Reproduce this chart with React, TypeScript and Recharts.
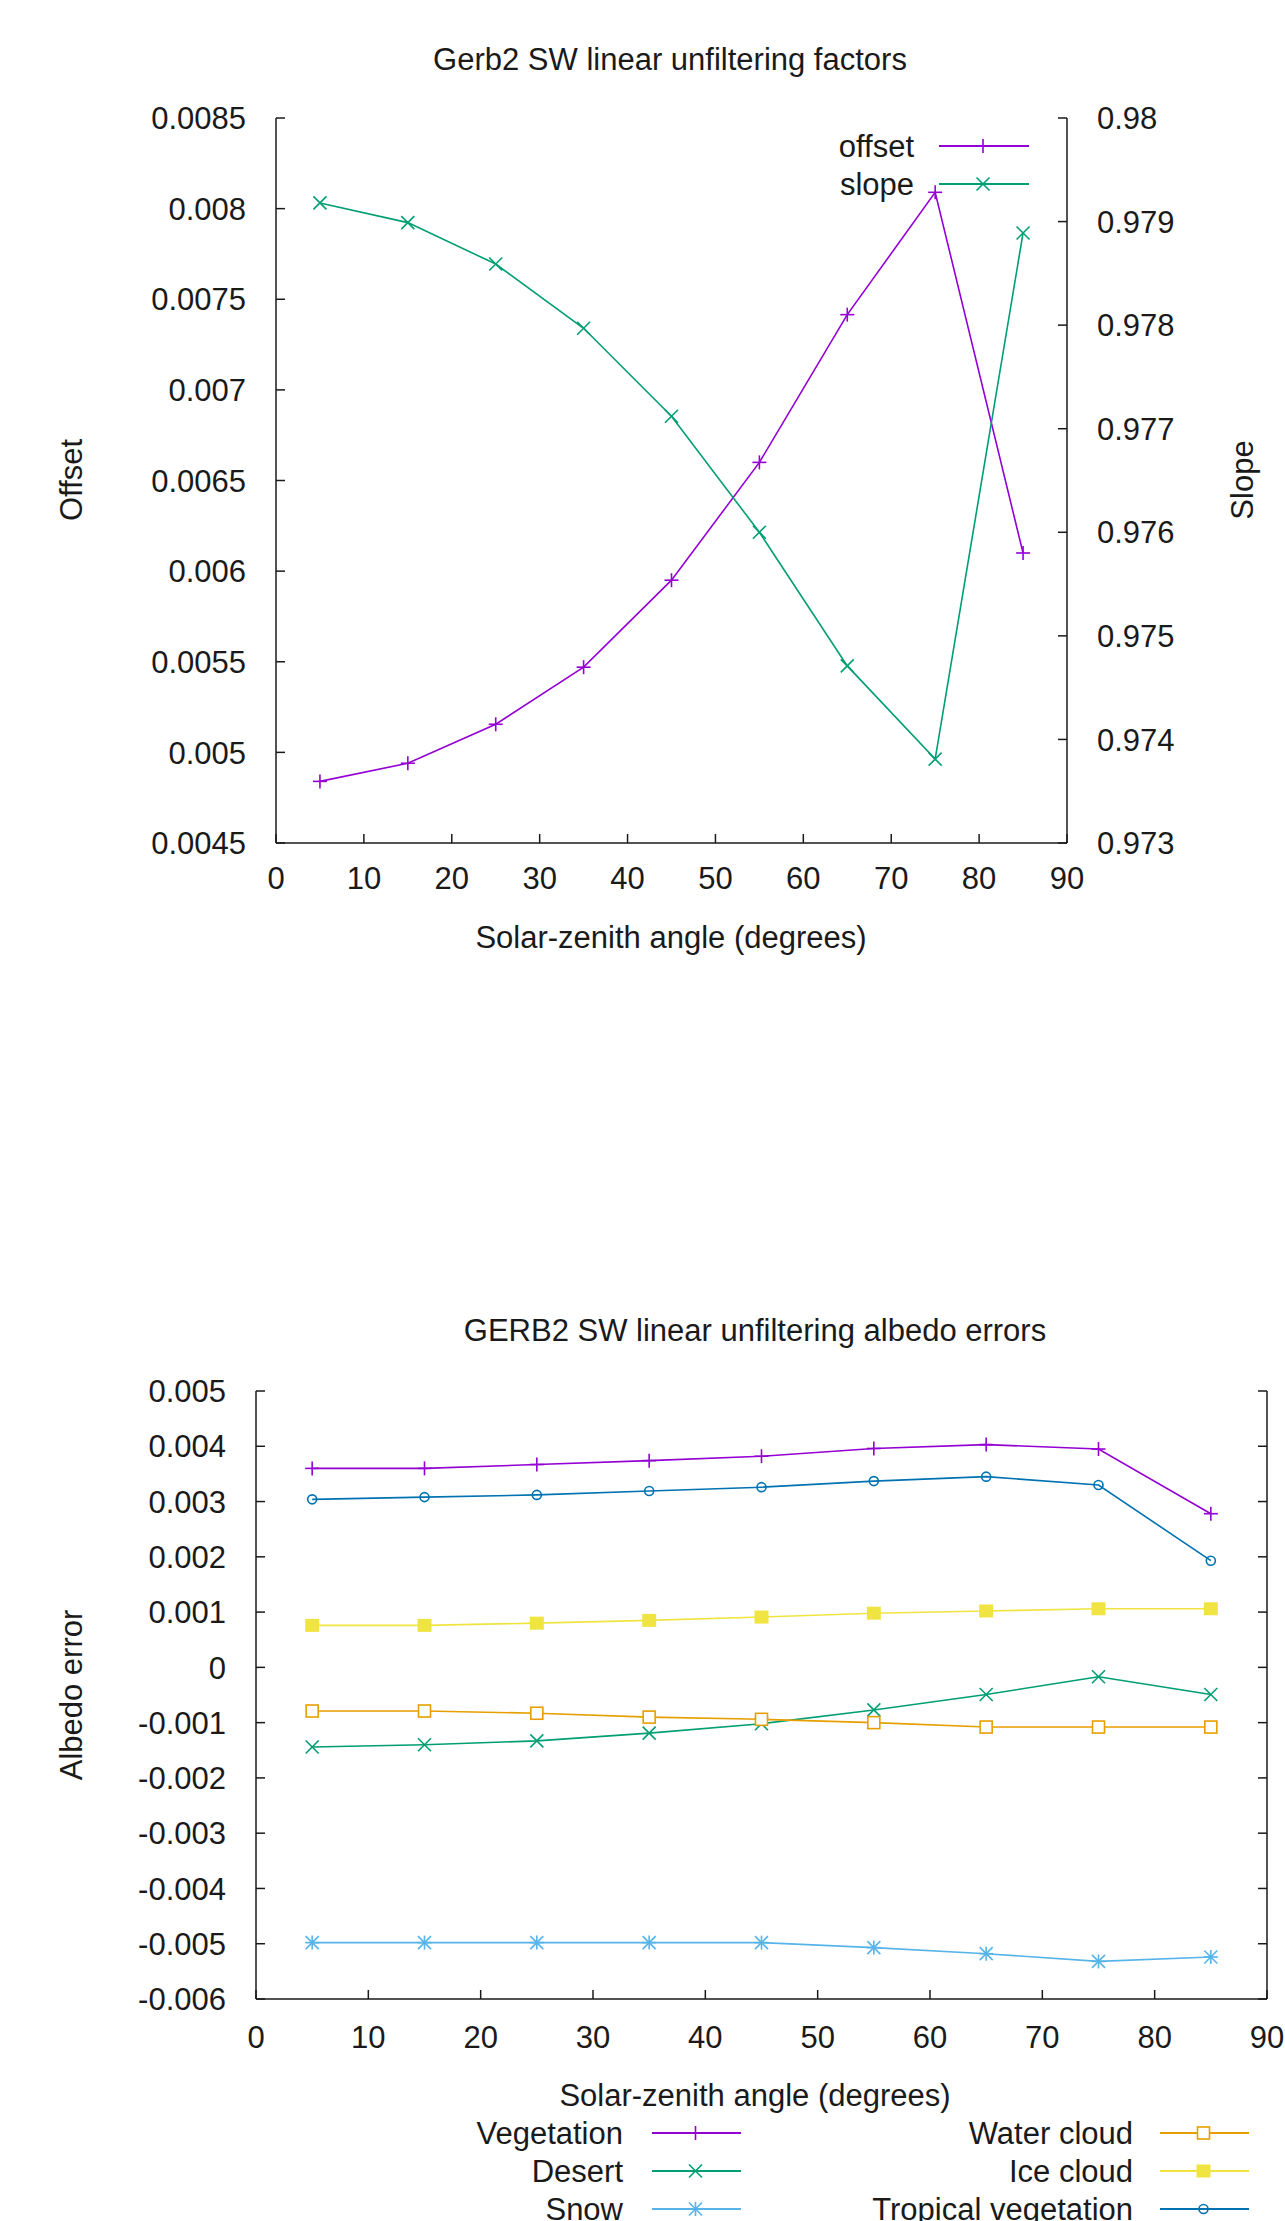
import React from "react";
import { LineChart, Line, XAxis, YAxis, Legend } from "recharts";

// solar-zenith angle bins (degrees)
const angles = [5, 15, 25, 35, 45, 55, 65, 75, 85];
const angleTicks = [0, 10, 20, 30, 40, 50, 60, 70, 80, 90];

// top chart: unfiltering factors
const offsetValues = [0.00484, 0.00494, 0.005155, 0.00547, 0.00595, 0.0066, 0.007415, 0.00809, 0.0061];
const slopeValues = [0.97918, 0.97899, 0.97859, 0.97797, 0.97712, 0.976, 0.97471, 0.97381, 0.97889];
const offsetTicks = [0.0045, 0.005, 0.0055, 0.006, 0.0065, 0.007, 0.0075, 0.008, 0.0085];
const slopeTicks = [0.973, 0.974, 0.975, 0.976, 0.977, 0.978, 0.979, 0.98];

// bottom chart: albedo errors per scene type
const vegetation = [0.0036, 0.0036, 0.00367, 0.00374, 0.00382, 0.00396, 0.00403, 0.00395, 0.00278];
const desert = [-0.00144, -0.0014, -0.00133, -0.00119, -0.00102, -0.00077, -0.00049, -0.00017, -0.00049];
const snow = [-0.00498, -0.00498, -0.00498, -0.00498, -0.00498, -0.00507, -0.00518, -0.00532, -0.00524];
const waterCloud = [-0.00079, -0.00079, -0.00083, -0.0009, -0.00094, -0.001, -0.00108, -0.00108, -0.00108];
const iceCloud = [0.00076, 0.00076, 0.0008, 0.00085, 0.00091, 0.00098, 0.00102, 0.00106, 0.00106];
const tropicalVegetation = [0.00304, 0.00308, 0.00312, 0.00319, 0.00326, 0.00337, 0.00345, 0.0033, 0.00193];
const errorTicks = [-0.006, -0.005, -0.004, -0.003, -0.002, -0.001, 0, 0.001, 0.002, 0.003, 0.004, 0.005];

const FONT = '"Liberation Sans", Arial, Helvetica, sans-serif';
const INK = "#1a1a1a";
const FS = 31;
const TICK = 9;
const LW = 1.6;

type Kind = "plus" | "cross" | "star" | "box" | "fbox" | "circle";

const factorSeries = [
  { key: "offset", name: "offset", color: "#9400d3", kind: "plus" as Kind, axis: "left" },
  { key: "slope", name: "slope", color: "#009e73", kind: "cross" as Kind, axis: "right" },
];

const errorSeries = [
  { key: "veg", name: "Vegetation", color: "#9400d3", kind: "plus" as Kind, values: vegetation },
  { key: "desert", name: "Desert", color: "#009e73", kind: "cross" as Kind, values: desert },
  { key: "snow", name: "Snow", color: "#56b4e9", kind: "star" as Kind, values: snow },
  { key: "water", name: "Water cloud", color: "#e69f00", kind: "box" as Kind, values: waterCloud },
  { key: "ice", name: "Ice cloud", color: "#f0e442", kind: "fbox" as Kind, values: iceCloud },
  { key: "tropical", name: "Tropical vegetation", color: "#0072b2", kind: "circle" as Kind, values: tropicalVegetation },
];

const factorRows = angles.map((a, i) => ({ angle: a, offset: offsetValues[i], slope: slopeValues[i] }));
const errorRows = angles.map((a, i) => {
  const row: any = { angle: a };
  errorSeries.forEach((s) => (row[s.key] = s.values[i]));
  return row;
});

function Marker({ kind, x, y, color }: { kind: Kind; x: number; y: number; color: string }) {
  const s = 7;
  const d = 6.5;
  const plus = (
    <>
      <line x1={x - s} y1={y} x2={x + s} y2={y} />
      <line x1={x} y1={y - s} x2={x} y2={y + s} />
    </>
  );
  const cross = (
    <>
      <line x1={x - d} y1={y - d} x2={x + d} y2={y + d} />
      <line x1={x - d} y1={y + d} x2={x + d} y2={y - d} />
    </>
  );
  if (kind === "plus") return <g stroke={color} strokeWidth={LW}>{plus}</g>;
  if (kind === "cross") return <g stroke={color} strokeWidth={LW}>{cross}</g>;
  if (kind === "star")
    return (
      <g stroke={color} strokeWidth={LW}>
        {plus}
        {cross}
      </g>
    );
  if (kind === "box")
    return <rect x={x - 6} y={y - 6} width={12} height={12} fill="#fff" stroke={color} strokeWidth={LW} />;
  if (kind === "fbox") return <rect x={x - 7} y={y - 6.5} width={14} height={13} fill={color} />;
  return <circle cx={x} cy={y} r={4.5} fill="none" stroke={color} strokeWidth={LW} />;
}

const dotFor = (kind: Kind, color: string) => (p: any) =>
  <Marker key={`${kind}-${p.index}`} kind={kind} x={p.cx} y={p.cy} color={color} />;

const txt = { fontFamily: FONT, fontSize: FS, fill: INK };

// inward tick marks with gnuplot-style labels
const leftTick = (axisX: number) => (p: any) => (
  <g key={`l-${p.index}`}>
    <line x1={axisX} x2={axisX + TICK} y1={p.y} y2={p.y} stroke={INK} strokeWidth={1.5} />
    <text {...txt} x={axisX - 30} y={p.y} dy="0.36em" textAnchor="end">
      {String(p.payload.value)}
    </text>
  </g>
);
const rightTick = (axisX: number, withLabel: boolean) => (p: any) => (
  <g key={`r-${p.index}`}>
    <line x1={axisX} x2={axisX - TICK} y1={p.y} y2={p.y} stroke={INK} strokeWidth={1.5} />
    {withLabel && (
      <text {...txt} x={axisX + 30} y={p.y} dy="0.36em" textAnchor="start">
        {String(p.payload.value)}
      </text>
    )}
  </g>
);
const bottomTick = (axisY: number, gap: number) => (p: any) => (
  <g key={`b-${p.index}`}>
    <line x1={p.x} x2={p.x} y1={axisY} y2={axisY - TICK} stroke={INK} strokeWidth={1.5} />
    <text {...txt} x={p.x} y={axisY + gap} dy="0.36em" textAnchor="middle">
      {String(p.payload.value)}
    </text>
  </g>
);
const topTick = (axisY: number) => (p: any) => (
  <line key={`t-${p.index}`} x1={p.x} x2={p.x} y1={axisY} y2={axisY + TICK} stroke={INK} strokeWidth={1.5} />
);

function KeyRow({ name, color, kind, textEnd, lineX1, lineX2, y }: any) {
  return (
    <g>
      <text {...txt} x={textEnd} y={y} dy="0.36em" textAnchor="end">
        {name}
      </text>
      <line x1={lineX1} x2={lineX2} y1={y} y2={y} stroke={color} strokeWidth={LW + 0.4} />
      <Marker kind={kind} x={(lineX1 + lineX2) / 2 - 1} y={y} color={color} />
    </g>
  );
}

const axisLine = { stroke: INK, strokeWidth: 1.5 };

function FactorsChart() {
  const W = 1285;
  const H = 960;
  return (
    <LineChart width={W} height={H} data={factorRows} margin={{ top: 118, right: 0, bottom: 0, left: 0 }}>
      <XAxis dataKey="angle" type="number" domain={[0, 90]} ticks={angleTicks} interval={0} height={117}
        allowDataOverflow tickLine={false} axisLine={axisLine} tick={bottomTick(843, 35)} />
      <XAxis xAxisId="top" orientation="top" dataKey="angle" type="number" domain={[0, 90]} ticks={angleTicks}
        interval={0} height={0} allowDataOverflow tickLine={false} axisLine={axisLine} tick={topTick(118)} />
      <YAxis yAxisId="left" type="number" domain={[0.0045, 0.0085]} ticks={offsetTicks} interval={0} width={276}
        allowDataOverflow tickLine={false} axisLine={axisLine} tick={leftTick(276)} />
      <YAxis yAxisId="right" orientation="right" type="number" domain={[0.973, 0.98]} ticks={slopeTicks}
        interval={0} width={218} allowDataOverflow tickLine={false} axisLine={axisLine} tick={rightTick(1067, true)} />
      {factorSeries.map((s) => (
        <Line key={s.key} yAxisId={s.axis} dataKey={s.key} name={s.name} type="linear" stroke={s.color}
          strokeWidth={LW} dot={dotFor(s.kind, s.color)} activeDot={false} isAnimationActive={false} />
      ))}
      <Legend layout="vertical" align="center" verticalAlign="middle"
        wrapperStyle={{ left: 0, top: 0, width: W, height: H, pointerEvents: "none" }}
        content={() => (
          <svg width={W} height={H} style={{ position: "absolute", left: 0, top: 0 }}>
            {factorSeries.map((s, i) => (
              <KeyRow key={s.key} name={s.name} color={s.color} kind={s.kind} textEnd={914}
                lineX1={939} lineX2={1029} y={146 + i * 38} />
            ))}
          </svg>
        )} />
    </LineChart>
  );
}

function ErrorsChart() {
  const W = 1285;
  const H = 921;
  return (
    <LineChart width={W} height={H} data={errorRows} margin={{ top: 91, right: 0, bottom: 0, left: 0 }}>
      <XAxis dataKey="angle" type="number" domain={[0, 90]} ticks={angleTicks} interval={0} height={222}
        allowDataOverflow tickLine={false} axisLine={axisLine} tick={bottomTick(699, 38)} />
      <XAxis xAxisId="top" orientation="top" dataKey="angle" type="number" domain={[0, 90]} ticks={angleTicks}
        interval={0} height={0} allowDataOverflow tickLine={false} axisLine={axisLine} tick={topTick(91)} />
      <YAxis yAxisId="left" type="number" domain={[-0.006, 0.005]} ticks={errorTicks} interval={0} width={256}
        allowDataOverflow tickLine={false} axisLine={axisLine} tick={leftTick(256)} />
      <YAxis yAxisId="mirror" orientation="right" type="number" domain={[-0.006, 0.005]} ticks={errorTicks}
        interval={0} width={18} allowDataOverflow tickLine={false} axisLine={axisLine} tick={rightTick(1267, false)} />
      {errorSeries.map((s) => (
        <Line key={s.key} yAxisId="left" dataKey={s.key} name={s.name} type="linear" stroke={s.color}
          strokeWidth={LW} dot={dotFor(s.kind, s.color)} activeDot={false} isAnimationActive={false} />
      ))}
      <Legend layout="vertical" align="center" verticalAlign="middle"
        wrapperStyle={{ left: 0, top: 0, width: W, height: H, pointerEvents: "none" }}
        content={() => (
          <svg width={W} height={H} style={{ position: "absolute", left: 0, top: 0 }}>
            {errorSeries.map((s, i) => {
              const col = Math.floor(i / 3);
              return (
                <KeyRow key={s.key} name={s.name} color={s.color} kind={s.kind}
                  textEnd={col === 0 ? 623 : 1133} lineX1={col === 0 ? 652 : 1160}
                  lineX2={col === 0 ? 741 : 1249} y={833 + (i % 3) * 38} />
              );
            })}
          </svg>
        )} />
    </LineChart>
  );
}

export default function App() {
  return (
    <div style={{ position: "absolute", left: 0, top: 0, width: 1285, height: 2221, background: "#fff", fontFamily: FONT }}>
      <div style={{ position: "absolute", left: 0, top: 0 }}>
        <FactorsChart />
      </div>
      <div style={{ position: "absolute", left: 0, top: 1300 }}>
        <ErrorsChart />
      </div>
      <svg width={1285} height={2221} style={{ position: "absolute", left: 0, top: 0, pointerEvents: "none" }}>
        <text {...txt} x={670} y={59} dy="0.36em" textAnchor="middle">Gerb2 SW linear unfiltering factors</text>
        <text {...txt} transform="translate(71,480) rotate(-90)" dy="0.36em" textAnchor="middle">Offset</text>
        <text {...txt} transform="translate(1242,480) rotate(-90)" dy="0.36em" textAnchor="middle">Slope</text>
        <text {...txt} x={671} y={937} dy="0.36em" textAnchor="middle">Solar-zenith angle (degrees)</text>
        <text {...txt} x={755} y={1330} dy="0.36em" textAnchor="middle">GERB2 SW linear unfiltering albedo errors</text>
        <text {...txt} transform="translate(71,1695) rotate(-90)" dy="0.36em" textAnchor="middle">Albedo error</text>
        <text {...txt} x={755} y={2095} dy="0.36em" textAnchor="middle">Solar-zenith angle (degrees)</text>
      </svg>
    </div>
  );
}
